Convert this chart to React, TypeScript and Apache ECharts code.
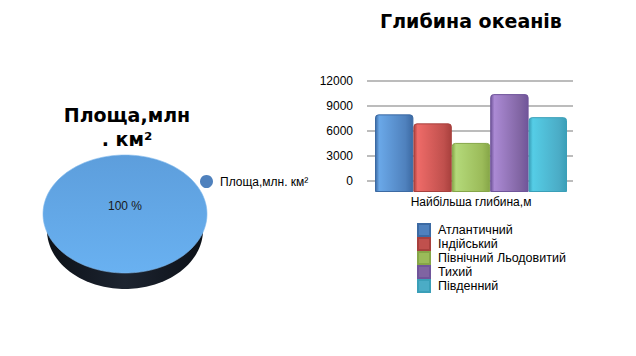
import React, { useEffect, useRef } from "react";
import * as echarts from "echarts";

// ---- data ----
const areaNames = ["Площа,млн. км²"];
const areaValues = [361.3];

const depthCategory = ["Найбільша глибина,м"];
const oceanNames = ["Атлантичний", "Індійський", "Північний Льодовитий", "Тихий", "Південний"];
const oceanDepths = [8742, 7729, 5527, 11022, 8428];
const yTicks = [0, 3000, 6000, 9000, 12000];

const baseColors = ["#4f81bd", "#c0504d", "#9bbb59", "#8064a2", "#4bacc6"];
const lightColors = ["#6aa8e8", "#ee6b68", "#b4d97a", "#ab8ad4", "#55cde6"];
const darkColors = ["#3c6aa3", "#a8403d", "#86a648", "#70559a", "#3a9fb8"];

const FONT = "DejaVu Sans";
const SMALL = "Liberation Sans";

export default function App() {
  const ref = useRef<HTMLDivElement>(null);
  useEffect(() => {
    if (!ref.current) return;
    const chart = echarts.init(ref.current, null, { renderer: "svg" });
    const total = areaValues.reduce((a, b) => a + b, 0);
    const PCX = 125, PCY = 214, PRX = 82, PRY = 59, PDEPTH = 16;

    const ellipsePts = (cx: number, cy: number, rx: number, ry: number, a0: number, a1: number, close: boolean) => {
      const pts: number[][] = [];
      const n = 160;
      if (close) pts.push([cx, cy]);
      for (let k = 0; k <= n; k++) {
        const a = a0 + ((a1 - a0) * k) / n;
        pts.push([cx + rx * Math.cos(a), cy + ry * Math.sin(a)]);
      }
      return pts;
    };

    const option: any = {
      animation: false,
      backgroundColor: "#ffffff",
      title: [
        {
          text: "Площа,млн\n. км²",
          left: 122,
          top: 98,
          textAlign: "center",
          textStyle: { fontFamily: FONT, fontWeight: "bold", fontSize: 19, lineHeight: 24, color: "#000" },
        },
        {
          text: "Глибина океанів",
          left: 466,
          top: 6,
          textAlign: "center",
          textStyle: { fontFamily: FONT, fontWeight: "bold", fontSize: 19, color: "#000" },
        },
      ],
      legend: [
        {
          left: 200,
          top: 175,
          padding: 0,
          orient: "vertical",
          itemWidth: 13,
          itemHeight: 13,
          textStyle: { fontFamily: SMALL, fontSize: 12, color: "#000", padding: [0, 0, 0, 2] },
          data: areaNames.map((n) => ({ name: n, icon: "circle", itemStyle: { color: "#4f81bd" } })),
        },
        {
          left: 417,
          top: 223,
          padding: 0,
          orient: "vertical",
          itemWidth: 12,
          itemHeight: 12,
          itemGap: 0,
          textStyle: { fontFamily: SMALL, fontSize: 12.5, color: "#000", padding: [0, 0, 0, 3], lineHeight: 14 },
          data: oceanNames.map((n, i) => ({ name: n, icon: "rect", itemStyle: { color: baseColors[i] } })),
        },
      ],
      grid: [
        { left: 367, right: 63, top: 81, bottom: 175 },
        { left: 375, right: 69, top: 81, bottom: 164 },
      ],
      xAxis: [
        { gridIndex: 0, type: "category", data: depthCategory, show: false },
        {
          gridIndex: 1,
          type: "category",
          data: depthCategory,
          axisLine: { show: false },
          axisTick: { show: false },
          axisLabel: { margin: 4, fontFamily: SMALL, fontSize: 12, color: "#000" },
        },
      ],
      yAxis: [
        {
          gridIndex: 0,
          type: "value",
          min: yTicks[0],
          max: yTicks[yTicks.length - 1],
          interval: 3000,
          axisLine: { show: false },
          axisTick: { show: false },
          axisLabel: {
            margin: 14,
            fontFamily: SMALL,
            fontSize: 12,
            color: "#000",
            formatter: (v: number) => String(v),
          },
          splitLine: { lineStyle: { color: "#a6a6a6", width: 1.5 } },
        },
        {
          gridIndex: 1,
          type: "value",
          min: 0,
          max: 12500,
          show: false,
          splitLine: { show: false },
        },
      ],
      series: [
        ...oceanNames.map((n, i) => ({
          name: n,
          type: "bar",
          xAxisIndex: 1,
          yAxisIndex: 1,
          barGap: "0%",
          barCategoryGap: "0%",
          data: [oceanDepths[i]],
          itemStyle: {
            borderRadius: [3, 3, 0, 0],
            borderColor: darkColors[i],
            borderWidth: 1,
            color: new echarts.graphic.LinearGradient(0, 0, 1, 0, [
              { offset: 0, color: darkColors[i] },
              { offset: 0.1, color: lightColors[i] },
              { offset: 0.8, color: baseColors[i] },
              { offset: 1, color: darkColors[i] },
            ]),
          },
        })),
        {
          name: areaNames[0],
          type: "custom",
          coordinateSystem: "none",
          data: areaValues.map((v, i) => ({ name: areaNames[i], value: v })),
          renderItem: (params: any, api: any) => {
            const idx = params.dataIndex;
            let before = 0;
            for (let k = 0; k < idx; k++) before += areaValues[k];
            const frac = areaValues[idx] / total;
            const a0 = -Math.PI / 2 + (before / total) * Math.PI * 2;
            const a1 = a0 + frac * Math.PI * 2;
            const full = frac >= 0.9999;
            const top = ellipsePts(PCX, PCY, PRX, PRY, a0, a1, !full);
            const side = ellipsePts(PCX, PCY + PDEPTH, PRX - 4, PRY, a0, a1, !full);
            const mid = (a0 + a1) / 2;
            const lx = full ? PCX : PCX + PRX * 0.55 * Math.cos(mid);
            const ly = full ? PCY - 8 : PCY + PRY * 0.55 * Math.sin(mid);
            return {
              type: "group",
              children: [
                {
                  type: "polygon",
                  shape: { points: side },
                  style: {
                    fill: new echarts.graphic.LinearGradient(0, 0, 1, 0, [
                      { offset: 0, color: "#0c1118" },
                      { offset: 0.5, color: "#1d2430" },
                      { offset: 1, color: "#0c1118" },
                    ]),
                  },
                },
                {
                  type: "polygon",
                  shape: { points: top },
                  style: {
                    fill: new echarts.graphic.LinearGradient(0, 0, 0, 1, [
                      { offset: 0, color: "#5d9edc" },
                      { offset: 1, color: "#69b1f1" },
                    ]),
                    stroke: "#7fb8ec",
                    lineWidth: 0.6,
                  },
                },
                {
                  type: "text",
                  style: {
                    text: Math.round(frac * 100) + " %",
                    x: lx,
                    y: ly,
                    align: "center",
                    verticalAlign: "middle",
                    fontFamily: SMALL,
                    fontSize: 12,
                    fill: "#1a1a1a",
                  },
                },
              ],
            };
          },
        },
      ],
    };
    chart.setOption(option);
    return () => chart.dispose();
  }, []);
  return (
    <div
      ref={ref}
      style={{ position: "fixed", left: 0, top: 0, width: 636, height: 356 }}
    />
  );
}
